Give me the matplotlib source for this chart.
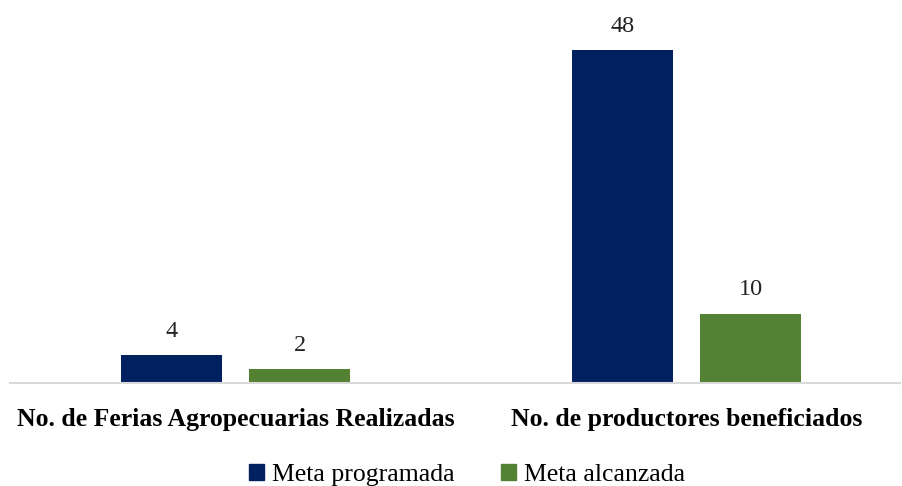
import numpy as np
import matplotlib
matplotlib.use("Agg")
import matplotlib.pyplot as plt
from matplotlib.patches import Patch

categorias = ["No. de Ferias Agropecuarias Realizadas", "No. de productores beneficiados"]
meta_programada = [4, 48]
meta_alcanzada = [2, 10]
series = ["Meta programada", "Meta alcanzada"]
colores = ["#002060", "#548235"]

plt.rcParams["font.family"] = ["Liberation Serif", "DejaVu Serif"]

fig = plt.figure(figsize=(9.02, 4.86), dpi=100)
ax = fig.add_axes([10 / 902, 103 / 486, 890 / 902, 373 / 486])

x = np.arange(len(categorias))
w = 0.224
off = 0.142
for vals, dx, col in [(meta_programada, -off, colores[0]), (meta_alcanzada, off, colores[1])]:
    bars = ax.bar(x + dx, vals, width=w, color=col)
    for b, v in zip(bars, vals):
        ax.text(b.get_x() + b.get_width() / 2, v + 1.9, str(v),
                ha="center", va="bottom", fontsize=17.5, color="#222222")

ax.set_xlim(-0.5, 1.473)
ax.set_ylim(0, 53.75)
ax.set_yticks([])
ax.set_xticks(x)
ax.set_xticklabels(categorias, fontsize=18.5, fontweight="bold")
ax.tick_params(axis="x", length=0, pad=18)
for s in ["top", "right", "left"]:
    ax.spines[s].set_visible(False)
ax.spines["bottom"].set_color("#d9d9d9")
ax.spines["bottom"].set_linewidth(1.5)

handles = [Patch(color=c, label=s) for c, s in zip(colores, series)]
fig.legend(handles=handles, loc="center", bbox_to_anchor=(467 / 902, 11 / 486), ncol=2,
           frameon=False, fontsize=18.5, handlelength=0.6, handleheight=0.6,
           handletextpad=0.3, columnspacing=1.8)

fig.savefig("out.png", dpi=100)
